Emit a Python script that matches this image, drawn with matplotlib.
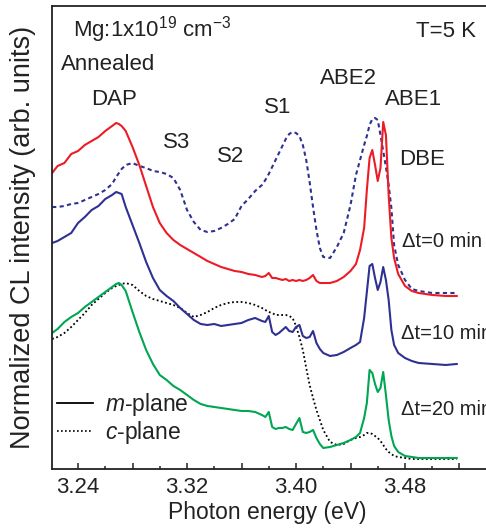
import matplotlib
matplotlib.use('Agg')
import matplotlib.pyplot as plt
from matplotlib.lines import Line2D

plt.rcParams['font.family'] = ['Liberation Sans', 'DejaVu Sans']
plt.rcParams['mathtext.fontset'] = 'custom'
plt.rcParams['mathtext.rm'] = 'Liberation Sans'
plt.rcParams['mathtext.it'] = 'Liberation Sans:italic'

# photon energy (eV), common sampling for all spectra
energy = [3.221, 3.225, 3.230, 3.235, 3.240, 3.245, 3.250, 3.255, 3.260, 3.265,
          3.268, 3.270, 3.272, 3.275, 3.280, 3.285, 3.290, 3.295, 3.300, 3.305,
          3.310, 3.315, 3.320, 3.325, 3.330, 3.335, 3.340, 3.345, 3.350, 3.355,
          3.360, 3.365, 3.370, 3.375, 3.3775, 3.380, 3.3825, 3.385, 3.3875, 3.390,
          3.3925, 3.395, 3.3975, 3.400, 3.4025, 3.405, 3.4075, 3.410, 3.4125, 3.415,
          3.4175, 3.420, 3.425, 3.430, 3.435, 3.440, 3.444, 3.447, 3.450, 3.452,
          3.454, 3.456, 3.458, 3.460, 3.462, 3.464, 3.466, 3.468, 3.470, 3.472,
          3.475, 3.480, 3.485, 3.490, 3.500, 3.510, 3.518]

# normalized CL intensity (arb. units, vertically offset)
m_0min = [296, 303, 306, 315, 318, 324, 328, 332, 338, 343,
          346, 345, 343, 338, 322, 304, 283, 262, 246, 236,
          229, 224, 220, 216, 212, 208, 205, 202, 200, 198,
          197, 195, 194, 192, 193, 196, 191, 191, 190, 189,
          190, 188, 189, 188, 189, 188, 189, 191, 194, 188,
          186, 186, 186, 188, 192, 198, 205, 219, 241, 279,
          311, 319, 304, 288, 301, 347, 334, 274, 231, 211,
          195, 183, 178, 176, 174, 173, 173]

c_0min = [262, 262, 263, 265, 266, 269, 272, 275, 279, 285,
          292, 296, 300, 304, 306, 303, 301, 298, 297, 295,
          291, 279, 259, 247, 239, 237, 238, 241, 245, 250,
          263, 270, 278, 284, 289, 295, 302, 309, 316, 323,
          330, 335, 337, 336, 333, 324, 309, 287, 262, 239,
          221, 212, 211, 222, 236, 264, 294, 309, 324, 333,
          344, 350, 351, 349, 334, 318, 302, 284, 261, 224,
          204, 189, 180, 178, 176, 176, 176]

m_10min = [226, 228, 232, 236, 246, 252, 259, 263, 270, 274,
           277, 276, 275, 262, 244, 226, 207, 191, 179, 173,
           168, 161, 155, 149, 145, 144, 145, 143, 144, 145,
           146, 149, 151, 148, 147, 153, 137, 134, 136, 139,
           142, 138, 137, 142, 144, 133, 131, 132, 138, 126,
           120, 116, 113, 114, 117, 121, 124, 127, 151, 177,
           203, 205, 191, 179, 187, 202, 189, 169, 139, 124,
           116, 111, 108, 106, 105, 104, 105]

m_20min = [136, 140, 147, 152, 156, 162, 167, 172, 177, 182,
           185, 186, 184, 178, 157, 137, 119, 105, 94, 89,
           83, 79, 74, 69, 65, 63, 62, 61, 60, 59,
           58, 58, 57, 54, 52, 57, 42, 40, 41, 41,
           42, 40, 39, 45, 51, 37, 36, 37, 39, 31,
           25, 21, 22, 24, 26, 29, 32, 36, 51, 66,
           99, 96, 85, 77, 81, 97, 74, 49, 33, 23,
           17, 13, 12, 11, 11, 11, 11]

c_20min = [130, 132, 136, 142, 149, 156, 164, 170, 176, 181,
           183, 184, 185, 186, 184, 178, 173, 170, 168, 166,
           164, 161, 156, 152, 154, 157, 161, 164, 166, 167,
           167, 166, 164, 161, 159, 157, 156, 154, 154, 154,
           154, 153, 151, 143, 132, 119, 101, 84, 71, 59,
           49, 39, 27, 24, 25, 29, 31, 32, 34, 36,
           36, 35, 33, 31, 28, 24, 20, 17, 15, 13,
           12, 11, 10, 10, 10, 10, 10]

xticks = [3.24, 3.28, 3.32, 3.36, 3.40, 3.44, 3.48, 3.52]
xtick_labels = ['3.24', '', '3.32', '', '3.40', '', '3.48', '']

red = '#ed1c24'
navy = '#2e3192'
green = '#00a651'

fig = plt.figure(figsize=(4.86, 5.31), dpi=100)
# axes run past the right edge, as in the cropped original
ax = fig.add_axes([0.107, 0.1168, 0.9506, 0.8719])

ax.plot(energy, c_0min, color=navy, lw=1.5, dashes=(2, 1.6))
ax.plot(energy, c_20min, color='black', lw=1.3, dashes=(1, 1.4))
ax.plot(energy, m_0min, color=red, lw=1.5)
ax.plot(energy, m_10min, color=navy, lw=1.5)
ax.plot(energy, m_20min, color=green, lw=1.5)

ax.set_xlim(3.2209, 3.56)
ax.set_ylim(0, 463)
ax.set_yticks([])
ax.set_xticks(xticks, xtick_labels)
ax.set_xticks([3.26, 3.30, 3.34, 3.38, 3.42, 3.46, 3.50], minor=True)
ax.tick_params(axis='x', which='major', direction='in', length=4.5, width=1.1,
               labelsize=16, pad=5.5, colors='#222222')
ax.tick_params(axis='x', which='minor', direction='in', length=2.5, width=1.1,
               colors='#222222')
ax.tick_params(axis='x', labelcolor='#222222')
for s in ['left', 'top', 'bottom']:
    ax.spines[s].set_linewidth(1.3)
    ax.spines[s].set_color('#222222')
ax.spines['right'].set_visible(False)

ax.set_xlabel('Photon energy (eV)', fontsize=16.5, color='#222222', va='center')
ax.xaxis.set_label_coords(0.465, -0.095)
ax.set_ylabel('Normalized CL intensity (arb. units)', fontsize=19.5,
              color='#222222', va='center')
ax.yaxis.set_label_coords(-0.0628, 0.5)

fs = 16
tc = '#222222'
ax.text(3.2363, 432, r'Mg:1x10$^{19}$ cm$^{-3}$', fontsize=fs, color=tc,
        ha='left', va='baseline')
ax.text(3.510, 437, 'T=5 K', fontsize=fs, color=tc, ha='center', va='center')
ax.text(3.2624, 404, 'Annealed', fontsize=fs, color=tc, ha='center', va='center')
ax.text(3.2668, 369, 'DAP', fontsize=fs, color=tc, ha='center', va='center')
ax.text(3.3123, 326, 'S3', fontsize=fs, color=tc, ha='center', va='center')
ax.text(3.3519, 312, 'S2', fontsize=fs, color=tc, ha='center', va='center')
ax.text(3.3868, 361, 'S1', fontsize=fs, color=tc, ha='center', va='center')
ax.text(3.4385, 390, 'ABE2', fontsize=fs, color=tc, ha='center', va='center')
ax.text(3.4866, 369, 'ABE1', fontsize=fs, color=tc, ha='center', va='center')
ax.text(3.4925, 309, 'DBE', fontsize=fs, color=tc, ha='center', va='center')
ax.text(3.4778, 227, u'\u0394t=0 min', fontsize=14.5, color=tc, ha='left', va='center')
ax.text(3.4771, 135, u'\u0394t=10 min', fontsize=14.5, color=tc, ha='left', va='center')
ax.text(3.4771, 59, u'\u0394t=20 min', fontsize=14.5, color=tc, ha='left', va='center')

handles = [Line2D([], [], color='black', lw=1.3),
           Line2D([], [], color='black', lw=1.2, dashes=(1, 1.4))]
ax.legend(handles, [r'$m$-plane', r'$c$-plane'], loc='lower left',
          bbox_to_anchor=(0.0, 0.04), frameon=False, fontsize=16.5,
          handlelength=1.6, handletextpad=0.5, labelspacing=0.05,
          borderpad=0.2, borderaxespad=0.0, labelcolor=tc)

fig.savefig('out.png', dpi=100)
